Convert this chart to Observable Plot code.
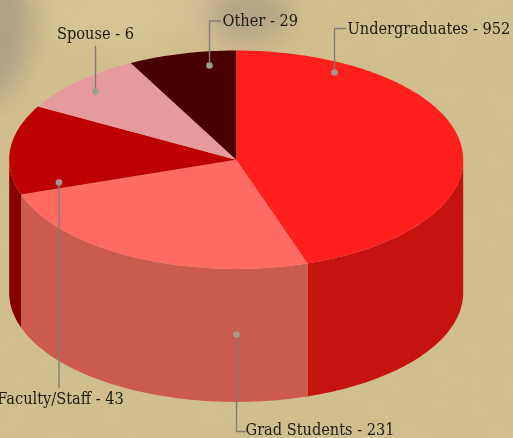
<!DOCTYPE html>
<html>
<head>
<meta charset="utf-8">
<script src="https://cdn.jsdelivr.net/npm/d3@7"></script>
<script src="https://cdn.jsdelivr.net/npm/@observablehq/plot@0.6"></script>
<style>
html,body{margin:0;padding:0;width:513px;height:438px;overflow:hidden}
body{position:relative;background:#d2bf8f}
#bg{position:absolute;left:0;top:0;width:513px;height:438px;overflow:hidden}
#bg div{position:absolute;border-radius:50%;filter:blur(12px)}
#tex{position:absolute;left:0;top:0;opacity:.035;mix-blend-mode:multiply}
#chart{position:absolute;left:0;top:0}
</style>
</head>
<body>
<div id="bg">
<div style="left:40px;top:-20px;width:150px;height:70px;background:#d6c495"></div>
<div style="left:185px;top:-20px;width:80px;height:60px;background:#dcc39c"></div>
<div style="left:205px;top:-15px;width:85px;height:58px;background:#b5a585"></div>
<div style="left:-50px;top:-30px;width:80px;height:135px;background:#b0a386;transform:rotate(12deg)"></div>
</div>
<svg id="tex" width="513" height="438"><filter id="n"><feTurbulence type="fractalNoise" baseFrequency="0.035" numOctaves="4" seed="7"/><feColorMatrix values="0 0 0 0 .45 0 0 0 0 .38 0 0 0 0 .2 0 0 0 1.6 -.5"/></filter><rect width="513" height="438" filter="url(#n)"/></svg>
<div id="chart"></div>
<script>
const categories = ["Undergraduates", "Grad Students", "Faculty/Staff", "Spouse", "Other"];
const counts = [952, 231, 43, 6, 29];
const sweepDegrees = [161.7, 89.7, 47.8, 33.1, 27.7];
const topColors = ["#ff1f1c", "#ff6a62", "#bd0000", "#e69a9c", "#490000"];
const wallColors = ["#c61310", "#cb5a4f", "#850000", "#b57a7c", "#300000"];

const cx = 235.7, cy = 159.2, rx = 227, ry = 109.2, depth = 133;

// callout layout: dot, elbow and text anchor for each category
const callouts = [
  {dot:[334,72], path:[[334,72],[334,28],[345,28]], text:[347,28], anchor:"start"},
  {dot:[236,334], path:[[236,334],[236,431],[245,431]], text:[245,429], anchor:"start"},
  {dot:[58.5,182], path:[[58.5,182],[58.5,387]], text:[60,398], anchor:"middle"},
  {dot:[95,91], path:[[95,91],[95,46]], text:[95,33], anchor:"middle"},
  {dot:[209,65], path:[[209,65],[209,20.5],[220,20.5]], text:[222,20], anchor:"start"}
];

const rad = d => d * Math.PI / 180;
const px = a => cx + rx * Math.sin(rad(a));
const py = a => cy - ry * Math.cos(rad(a));
const range = (a, b) => {
  const n = Math.max(2, Math.ceil(Math.abs(b - a))), out = [];
  for (let i = 0; i <= n; i++) out.push(a + (b - a) * i / n);
  return out;
};

let start = 0;
const slices = categories.map((name, i) => {
  const s = {name, i, a0: start, a1: start + sweepDegrees[i]};
  start = s.a1;
  return s;
});

const tops = slices.flatMap(s => [
  {id: s.name, x: cx, y: cy, fill: topColors[s.i]},
  ...range(s.a0, s.a1).map(a => ({id: s.name, x: px(a), y: py(a), fill: topColors[s.i]}))
]);

const walls = slices.flatMap(s => {
  const a0 = Math.max(s.a0, 90), a1 = Math.min(s.a1, 270);
  if (a1 <= a0) return [];
  const arc = range(a0, a1);
  return [
    ...arc.map(a => ({id: s.name, x: px(a), y: py(a), fill: wallColors[s.i]})),
    ...arc.slice().reverse().map(a => ({id: s.name, x: px(a), y: py(a) + depth, fill: wallColors[s.i]}))
  ];
});

const leaders = callouts.flatMap((c, i) => c.path.map(([x, y]) => ({id: categories[i], x, y})));
const dots = callouts.map(c => ({x: c.dot[0], y: c.dot[1]}));
const labels = callouts.map((c, i) => ({
  x: c.text[0], y: c.text[1], anchor: c.anchor, label: `${categories[i]} - ${counts[i]}`
}));

const plot = Plot.plot({
  width: 513, height: 438,
  margin: 0,
  style: {background: "transparent", overflow: "hidden"},
  x: {domain: [0, 513], range: [0, 513], axis: null},
  y: {domain: [0, 438], range: [0, 438], axis: null},
  marks: [
    Plot.line(walls, {x: "x", y: "y", z: "id", fill: d => d.fill, stroke: "none", curve: "linear-closed"}),
    Plot.line(tops, {x: "x", y: "y", z: "id", fill: d => d.fill, stroke: "none", curve: "linear-closed"}),
    Plot.line(leaders, {x: "x", y: "y", z: "id", stroke: "#7f7d76", strokeWidth: 1.4, curve: "linear"}),
    Plot.dot(dots, {x: "x", y: "y", r: 3.3, fill: "#a09b8a", stroke: "none"}),
    ...["start", "middle"].map(anchor => Plot.text(labels.filter(l => l.anchor === anchor), {
      x: "x", y: "y", text: "label", textAnchor: anchor, fill: "#1c1a14",
      fontFamily: "DejaVu Serif Condensed, DejaVu Serif", fontSize: 16.2
    }))
  ]
});
document.getElementById("chart").appendChild(plot);
</script>
</body>
</html>
